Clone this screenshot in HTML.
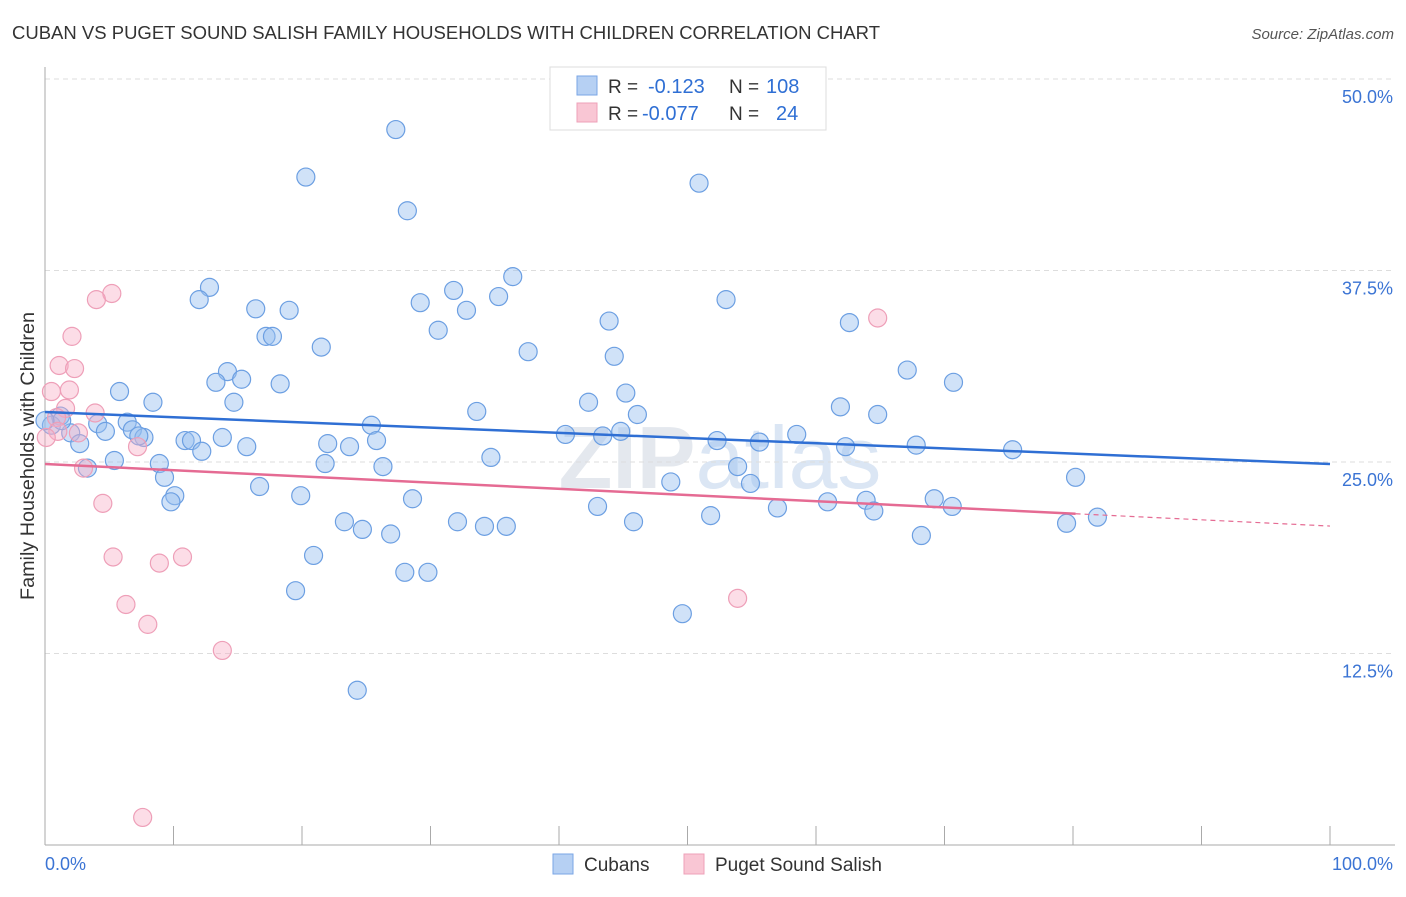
<!DOCTYPE html>
<html><head><meta charset="utf-8"><style>
body{margin:0;background:#fff;font-family:"Liberation Sans",sans-serif;}
svg text{font-family:"Liberation Sans",sans-serif;}
</style></head><body>
<svg width="1406" height="892" xmlns="http://www.w3.org/2000/svg">
<text x="12" y="39" font-size="18" fill="#333" textLength="868" lengthAdjust="spacingAndGlyphs">CUBAN VS PUGET SOUND SALISH FAMILY HOUSEHOLDS WITH CHILDREN CORRELATION CHART</text>
<text x="1394" y="39" font-size="15" fill="#555" font-style="italic" text-anchor="end">Source: ZipAtlas.com</text>
<text x="720" y="488" font-size="88" fill="#e4e8ee" text-anchor="middle" font-weight="bold">ZIP<tspan font-weight="normal" fill="#dbe6f4">atlas</tspan></text>
<g id="grid"></g>
<g id="axes"></g>
<g id="pts"></g>
<g id="trend"></g>
<text transform="translate(34,456) rotate(-90)" font-size="19" fill="#333" text-anchor="middle" textLength="288" lengthAdjust="spacingAndGlyphs">Family Households with Children</text>
<g>
<rect x="550" y="67" width="276" height="63" fill="#fff" stroke="#ddd"/>
<rect x="577" y="76" width="20" height="19" fill="#b6d0f3" stroke="#7aa6e6"/>
<rect x="577" y="103" width="20" height="19" fill="#f9c6d4" stroke="#eea0b8"/>
<text x="608" y="93" font-size="19" fill="#333">R = </text><text x="648" y="93" font-size="20" fill="#2f6fd4">-0.123</text>
<text x="729" y="93" font-size="19" fill="#333">N = </text><text x="766" y="93" font-size="20" fill="#2f6fd4">108</text>
<text x="608" y="120" font-size="19" fill="#333">R = </text><text x="642" y="120" font-size="20" fill="#2f6fd4">-0.077</text>
<text x="729" y="120" font-size="19" fill="#333">N = </text><text x="776" y="120" font-size="20" fill="#2f6fd4">24</text>
</g>
<g>
<rect x="553" y="854" width="20" height="20" fill="#b6d0f3" stroke="#7aa6e6"/>
<text x="584" y="871" font-size="19" fill="#333">Cubans</text>
<rect x="684" y="854" width="20" height="20" fill="#f9c6d4" stroke="#eea0b8"/>
<text x="715" y="871" font-size="19" fill="#333">Puget Sound Salish</text>
</g>
</svg>
<script>
const yTicks=[12.5,25.0,37.5,50.0];
const xTickLabels=["0.0%","100.0%"];
const blueX=[27.3,20.3,50.9,28.2,36.4,12.8,31.8,12.0,35.3,29.2,53.0,16.4,19.0,32.8,43.9,62.6,30.6,17.2,17.7,21.5,37.6,44.3,67.1,14.2,13.3,15.3,18.3,70.7,5.8,45.2,14.7,8.4,42.3,61.9,33.6,46.1,64.8,1.2,6.4,4.1,25.4,6.8,4.7,2.0,7.7,7.3,40.5,44.8,43.4,58.5,10.9,11.4,13.8,25.8,52.3,55.6,22.0,23.7,15.7,62.3,67.8,75.3,2.7,12.2,34.7,5.4,8.9,21.8,26.3,53.9,9.3,80.2,48.7,54.9,16.7,10.1,19.9,28.6,9.8,43.0,60.9,63.9,69.2,70.6,57.0,64.5,51.8,23.3,32.1,45.8,24.7,34.2,35.9,79.5,81.9,26.9,68.2,20.9,28.0,29.8,19.5,49.6,24.3,3.3,0.5,1.3,0.0];
const blueY=[46.7,43.6,43.2,41.4,37.1,36.4,36.2,35.6,35.8,35.4,35.6,35.0,34.9,34.9,34.2,34.1,33.6,33.2,33.2,32.5,32.2,31.9,31.0,30.9,30.2,30.4,30.1,30.2,29.6,29.5,28.9,28.9,28.9,28.6,28.3,28.1,28.1,28.0,27.6,27.5,27.4,27.1,27.0,26.9,26.6,26.7,26.8,27.0,26.7,26.8,26.4,26.4,26.6,26.4,26.4,26.3,26.2,26.0,26.0,26.0,26.1,25.8,26.2,25.7,25.3,25.1,24.9,24.9,24.7,24.7,24.0,24.0,23.7,23.6,23.4,22.8,22.8,22.6,22.4,22.1,22.4,22.5,22.6,22.1,22.0,21.8,21.5,21.1,21.1,21.1,20.6,20.8,20.8,21.0,21.4,20.3,20.2,18.9,17.8,17.8,16.6,15.1,10.1,24.6,27.4,27.7,27.7];
const pinkX=[5.2,4.0,2.1,1.1,2.3,0.5,1.9,1.6,3.9,0.9,1.0,0.1,2.6,7.2,3.0,4.5,5.3,10.7,8.9,6.3,8.0,13.8,53.9,64.8,7.6];
const pinkY=[36.0,35.6,33.2,31.3,31.1,29.6,29.7,28.5,28.2,27.9,27.0,26.6,26.9,26.0,24.6,22.3,18.8,18.8,18.4,15.7,14.4,12.7,16.1,34.4,1.8];
const blueTrend=[28.26,24.87];
const pinkTrend=[24.87,20.82];
const pinkSolidEnd=80.2;

const NS="http://www.w3.org/2000/svg";
const X0=45,X1=1330,YB=845,Y50=79;
const sx=v=>X0+(X1-X0)*v/100;
const sy=v=>YB-(YB-Y50)*v/50;
function mk(tag,attrs,parent){const e=document.createElementNS(NS,tag);for(const k in attrs)e.setAttribute(k,attrs[k]);parent.appendChild(e);return e;}
const grid=document.getElementById('grid'),axes=document.getElementById('axes'),pts=document.getElementById('pts'),trend=document.getElementById('trend');
yTicks.forEach(t=>{
 const l=mk('line',{x1:X0,x2:1395,y1:sy(t),y2:sy(t),stroke:'#ddd','stroke-dasharray':'5,4'},grid);
 
 
 const tx=mk('text',{x:1393,y:sy(t)+24,'font-size':18,fill:'#3b74d4','text-anchor':'end'},grid);
 tx.textContent=t.toFixed(1)+'%';
 
 
});
const ax=mk('line',{x1:X0,x2:1395,y1:YB,y2:YB,stroke:'#aaa'},axes);


const ay=mk('line',{x1:X0,x2:X0,y1:67,y2:YB,stroke:'#aaa'},axes);


for(let i=0;i<=10;i++){
 const t=mk('line',{x1:sx(i*10),x2:sx(i*10),y1:826,y2:YB,stroke:'#aaa'},axes);
 
 
}
const xl0=mk('text',{x:45,y:870,'font-size':18,fill:'#3b74d4'},axes);xl0.textContent=xTickLabels[0];


const xl1=mk('text',{x:1393,y:870,'font-size':18,fill:'#3b74d4','text-anchor':'end'},axes);xl1.textContent=xTickLabels[1];


blueX.forEach((v,i)=>{
 const c=mk('circle',{cx:sx(v),cy:sy(blueY[i]),r:9,fill:'rgba(150,190,240,0.45)',stroke:'#6c9fe2','stroke-width':1.2},pts);
 
 
});
pinkX.forEach((v,i)=>{
 const c=mk('circle',{cx:sx(v),cy:sy(pinkY[i]),r:9,fill:'rgba(248,175,198,0.42)',stroke:'#ee9fb8','stroke-width':1.2},pts);
 
 
});
const bl=mk('line',{x1:sx(0),y1:sy(blueTrend[0]),x2:sx(100),y2:sy(blueTrend[1]),stroke:'#2f6fd4','stroke-width':2.5},trend);


const py=x=>pinkTrend[0]+(pinkTrend[1]-pinkTrend[0])*x/100;
const pl=mk('line',{x1:sx(0),y1:sy(pinkTrend[0]),x2:sx(pinkSolidEnd),y2:sy(py(pinkSolidEnd)),stroke:'#e56b93','stroke-width':2.5},trend);


const pd=mk('line',{x1:sx(pinkSolidEnd),y1:sy(py(pinkSolidEnd)),x2:sx(100),y2:sy(pinkTrend[1]),stroke:'#e56b93','stroke-width':1.2,'stroke-dasharray':'5,4'},trend);


</script>
</body></html>
